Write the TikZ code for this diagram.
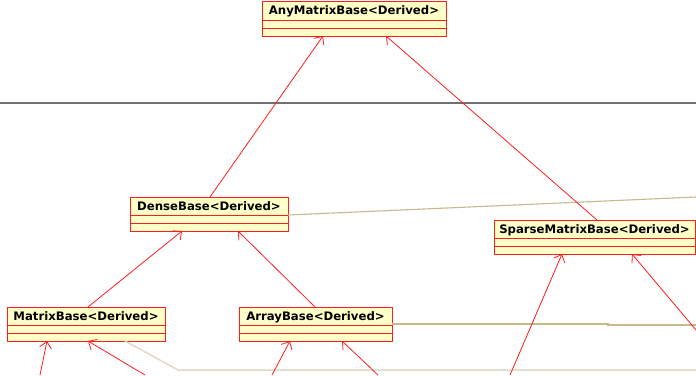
\documentclass[tikz,border=0pt]{standalone}
\usepackage{fontspec}
\newfontfamily\classfont{DejaVu Sans}
\usetikzlibrary{arrows.meta,calc}

\definecolor{umlfill}{RGB}{255,255,200}
\definecolor{umlred}{RGB}{255,30,30}
\definecolor{assoc}{RGB}{196,186,140}
\definecolor{assoclight}{RGB}{222,218,198}
\definecolor{rulegray}{RGB}{112,112,112}

\tikzset{
  umlclass/.style={draw=umlred, fill=umlfill, line width=0.9pt, anchor=north west,
                   inner sep=0pt, outer sep=0pt},
  classtitle/.style={anchor=north, inner sep=0pt, yshift=-4pt,
                     font=\classfont\bfseries\fontsize{11.7}{13}\selectfont},
  compartment/.style={draw=umlred, line width=0.9pt},
  gen/.style={draw=umlred, line width=0.8pt, -{Straight Barb[length=6.5pt,width=12pt]}},
  assocline/.style={draw=assoc, line width=1.1pt},
  assocfaint/.style={draw=assoclight, line width=1.5pt},
}

% name, x, y, width, height, title row height, title
\newcommand\classbox[7]{%
  \node[umlclass, minimum width=#4pt, minimum height=#5pt,
        label={[classtitle]north:#7}] (#1) at (#2,#3) {};
  \draw[compartment] ($(#1.north west)+(0,#6)$) -- ($(#1.north east)+(0,#6)$);
  \draw[compartment] ($(#1.north west)+(0,#6+8)$) -- ($(#1.north east)+(0,#6+8)$);
}

\begin{document}
\begin{tikzpicture}[x=1pt,y=-1pt]
  \useasboundingbox[fill=white] (0,0) rectangle (696,375);

  % package boundary
  \coordinate (ruleL) at (0,103);
  \coordinate (ruleR) at (696,103);
  \draw[rulegray, line width=1.5pt] (ruleL) -- (ruleR);

  % associations running off to the right
  \coordinate (d1) at (696,197);
  \coordinate (r1) at (608,324);
  \coordinate (r2) at (608,325);
  \coordinate (r3) at (696,325);
  \coordinate (k1) at (178,370);
  \coordinate (k2) at (696,370);

  \classbox{any}{262}{1}{184}{35}{19}{AnyMatrixBase<Derived>}
  \classbox{dense}{130}{197}{158}{34}{18}{DenseBase<Derived>}
  \classbox{sparse}{494}{220}{201}{34}{18}{SparseMatrixBase<Derived>}
  \classbox{matrix}{7}{307}{158}{34}{18}{MatrixBase<Derived>}
  \classbox{array}{239}{307}{153}{34}{18}{ArrayBase<Derived>}

  \draw[assocline] ($(dense.north east)+(0,18)$) -- (d1);
  \draw[assocline] ($(array.north east)+(0,17)$) -- (r1) -- (r2) -- (r3);
  \draw[assocfaint] ($(matrix.south west)+(118,0)$) -- (k1) -- (k2);

  % generalizations
  \draw[gen] ($(dense.north west)+(80,0)$) -- ($(any.south west)+(61,0)$);
  \draw[gen] ($(sparse.north west)+(103,0)$) -- ($(any.south west)+(124,0)$);
  \draw[gen] ($(matrix.north west)+(81,0)$) -- ($(dense.south west)+(52,0)$);
  \draw[gen] ($(array.north west)+(76,0)$) -- ($(dense.south west)+(108,0)$);

  % subclasses below the visible area
  \coordinate (m1) at (40,375);
  \coordinate (m2) at (145,375);
  \coordinate (a1) at (272,375);
  \coordinate (a2) at (378,375);
  \coordinate (s1) at (510,375);
  \coordinate (s2) at (696,330);

  \draw[gen] (m1) -- ($(matrix.south west)+(40,0)$);
  \draw[gen] (m2) -- ($(matrix.south west)+(81,0)$);
  \draw[gen] (a1) -- ($(array.south west)+(51,0)$);
  \draw[gen] (a2) -- ($(array.south west)+(103,0)$);
  \draw[gen] (s1) -- ($(sparse.south west)+(68,0)$);
  \draw[gen] (s2) -- ($(sparse.south west)+(138,0)$);
\end{tikzpicture}
\end{document}
